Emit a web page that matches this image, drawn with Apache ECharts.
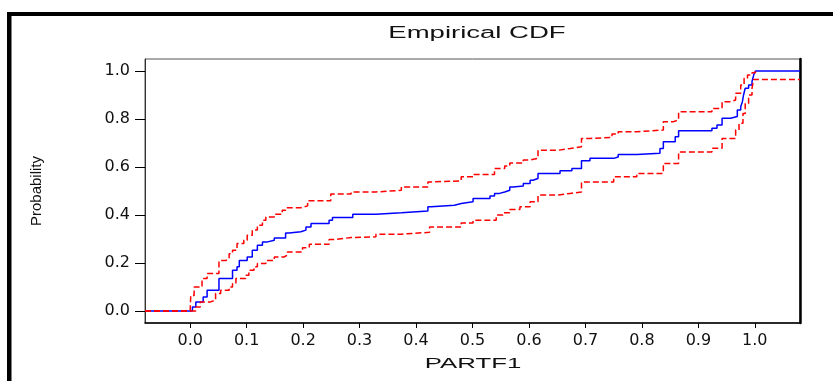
<!DOCTYPE html>
<html>
<head>
<meta charset="utf-8">
<script src="https://cdn.jsdelivr.net/npm/echarts@6/dist/echarts.min.js"></script>
<style>
html,body{margin:0;padding:0;background:#fff;}
#chart{width:833px;height:381px;}
</style>
</head>
<body>
<div id="chart"></div>
<script>
// ---- data ----
const titleText = 'Empirical CDF';
const xAxisName = 'PARTF1';
const yAxisName = 'Probability';
const xTicks = [0.0, 0.1, 0.2, 0.3, 0.4, 0.5, 0.6, 0.7, 0.8, 0.9, 1.0];
const yTicks = [0.0, 0.2, 0.4, 0.6, 0.8, 1.0];

const cdfX = [-0.08,0,0.004,0.010,0.023,0.030,0.051,0.075,0.083,0.087,0.101,0.110,0.119,0.128,0.137,0.149,0.169,0.175,0.196,0.205,0.214,0.246,0.252,0.288,0.329,0.374,0.421,0.427,0.468,0.480,0.501,0.531,0.539,0.548,0.557,0.566,0.572,0.590,0.602,0.607,0.616,0.655,0.676,0.693,0.708,0.750,0.758,0.791,0.832,0.838,0.859,0.865,0.924,0.933,0.942,0.957,0.969,0.975,0.978,0.980,0.983,0.989,0.995,0.998,1.001,1.08];
const cdfY = [0,0,0.017,0.038,0.058,0.086,0.135,0.17,0.184,0.21,0.225,0.253,0.274,0.288,0.295,0.304,0.325,0.33,0.337,0.35,0.365,0.378,0.39,0.403,0.409,0.417,0.434,0.441,0.448,0.455,0.469,0.479,0.49,0.496,0.503,0.517,0.521,0.531,0.545,0.552,0.573,0.584,0.594,0.626,0.636,0.642,0.652,0.657,0.677,0.705,0.726,0.751,0.761,0.775,0.803,0.81,0.837,0.851,0.872,0.9,0.928,0.942,0.956,0.983,1.0,1.0];

const upperX = [-0.08,0,0.001,0.007,0.021,0.030,0.051,0.063,0.069,0.075,0.083,0.095,0.101,0.110,0.119,0.128,0.134,0.149,0.163,0.169,0.196,0.208,0.249,0.285,0.329,0.374,0.421,0.427,0.480,0.501,0.539,0.557,0.566,0.590,0.602,0.616,0.652,0.673,0.693,0.708,0.747,0.758,0.791,0.838,0.856,0.865,0.924,0.942,0.957,0.966,0.975,0.981,0.987,0.995,1.001];
const upperY = [0,0,0.065,0.1,0.135,0.156,0.21,0.218,0.239,0.253,0.281,0.295,0.316,0.337,0.357,0.378,0.392,0.403,0.42,0.43,0.438,0.459,0.487,0.496,0.503,0.517,0.538,0.542,0.559,0.569,0.594,0.604,0.617,0.629,0.636,0.67,0.677,0.684,0.719,0.723,0.737,0.747,0.754,0.789,0.796,0.83,0.844,0.872,0.879,0.907,0.942,0.97,0.983,0.993,1.0];

const lowerX = [-0.08,0,0.010,0.018,0.036,0.045,0.054,0.069,0.075,0.081,0.098,0.104,0.113,0.119,0.134,0.149,0.166,0.172,0.199,0.211,0.246,0.255,0.285,0.329,0.374,0.424,0.480,0.501,0.542,0.554,0.566,0.584,0.602,0.616,0.652,0.673,0.693,0.750,0.791,0.838,0.865,0.924,0.942,0.966,0.972,0.979,0.983,0.989,0.995,0.998,1.08];
const lowerY = [0,0,0.017,0.038,0.045,0.073,0.086,0.1,0.114,0.135,0.149,0.17,0.184,0.198,0.21,0.225,0.232,0.246,0.264,0.278,0.298,0.306,0.309,0.32,0.328,0.35,0.367,0.378,0.4,0.409,0.423,0.434,0.455,0.483,0.49,0.496,0.538,0.559,0.573,0.615,0.663,0.678,0.719,0.754,0.782,0.823,0.865,0.9,0.928,0.965,0.965];

const pairs = (xs, ys) => xs.map((x, i) => [x, ys[i]]);

const chart = echarts.init(document.getElementById('chart'), null, {renderer: 'canvas'});
const fontFam = 'Liberation Sans, Arial, sans-serif';
chart.setOption({
  animation: false,
  backgroundColor: '#ffffff',
  grid: {left: 145, right: 33, top: 59, bottom: 58, show: true, borderColor: '#555', borderWidth: 1},
  graphic: [
    {type: 'rect', shape: {x: 7, y: 12, width: 826, height: 4}, style: {fill: '#000'}, silent: true},
    {type: 'rect', shape: {x: 7, y: 12, width: 4.5, height: 369}, style: {fill: '#000'}, silent: true},
    {type: 'text', x: 477, y: 34, scaleX: 1.72, style: {text: titleText, fontFamily: fontFam, fontSize: 16, fill: '#111', align: 'center', verticalAlign: 'middle'}},
    {type: 'text', x: 473, y: 364, scaleX: 1.72, style: {text: xAxisName, fontFamily: fontFam, fontSize: 15, fill: '#111', align: 'center', verticalAlign: 'middle'}}
  ],
  xAxis: [{
    type: 'value', min: -0.08, max: 1.08, position: 'bottom',
    splitLine: {show: false},
    axisLine: {show: true, onZero: false, lineStyle: {color: '#000', width: 1.5}},
    axisTick: {show: true, inside: false, length: 5, customValues: xTicks, lineStyle: {color: '#000'}},
    axisLabel: {show: true, customValues: xTicks, margin: 10, formatter: v => v.toFixed(1), color: '#111', fontFamily: 'DejaVu Sans', fontSize: 16}
  }],
  yAxis: [{
    type: 'value', min: -0.05, max: 1.05, position: 'left',
    name: yAxisName, nameLocation: 'middle', nameRotate: 90, nameGap: 101,
    nameTextStyle: {color: '#111', fontFamily: fontFam, fontSize: 15},
    splitLine: {show: false},
    axisLine: {show: true, onZero: false, lineStyle: {color: '#333', width: 1}},
    axisTick: {show: true, inside: false, length: 10, customValues: yTicks, lineStyle: {color: '#000'}},
    axisLabel: {show: true, customValues: yTicks, margin: 15, formatter: v => v.toFixed(1), color: '#111', fontFamily: 'DejaVu Sans', fontSize: 16}
  }, {
    type: 'value', min: -0.05, max: 1.05, position: 'right',
    splitLine: {show: false},
    axisLine: {show: true, onZero: false, lineStyle: {color: '#000', width: 2.5}},
    axisTick: {show: false}, axisLabel: {show: false}
  }],
  series: [
    {type: 'line', name: 'ECDF', step: 'end', data: pairs(cdfX, cdfY), showSymbol: false, symbol: 'none',
     lineStyle: {color: '#0000ff', width: 1.5}, z: 2},
    {type: 'line', name: 'Upper', step: 'end', data: pairs(upperX, upperY), showSymbol: false, symbol: 'none',
     lineStyle: {color: '#ff0000', width: 1.5, type: [6, 3]}, z: 3},
    {type: 'line', name: 'Lower', step: 'end', data: pairs(lowerX, lowerY), showSymbol: false, symbol: 'none',
     lineStyle: {color: '#ff0000', width: 1.5, type: [6, 3]}, z: 3}
  ]
});
</script>
</body>
</html>
